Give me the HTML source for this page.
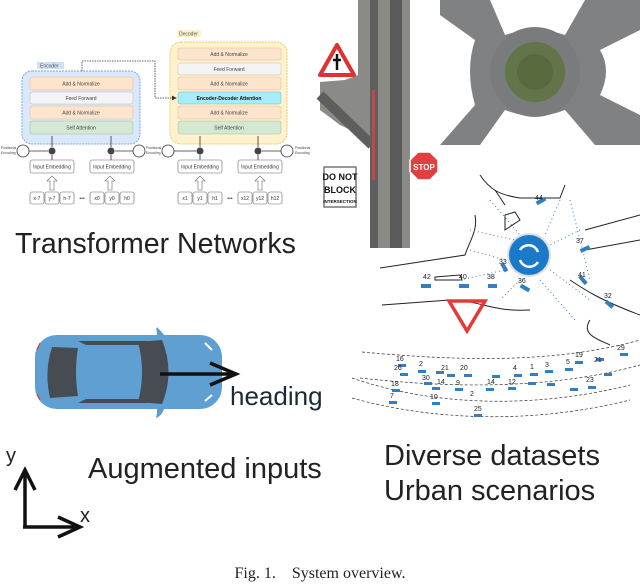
<!DOCTYPE html>
<html><head><meta charset="utf-8"><style>
body{margin:0;background:#fff;width:640px;height:584px;overflow:hidden}
svg{display:block}
.t{font-family:"Liberation Sans",sans-serif}
</style></head><body>
<svg width="640" height="584" viewBox="0 0 640 584" xmlns="http://www.w3.org/2000/svg">
<defs>
<marker id="ah" markerWidth="6" markerHeight="6" refX="5" refY="3" orient="auto"><path d="M0,0 L6,3 L0,6z" fill="#333"/></marker>
</defs>
<!-- Encoder -->
<rect x="37" y="62" width="27" height="7" fill="#cfe0f5"/>
<text x="40" y="67.5" font-size="5" class="t" fill="#555">Encoder</text>
<rect x="22" y="71" width="118" height="73" rx="10" fill="#dae8fc" stroke="#7ea6e0" stroke-dasharray="2,1"/>
<g class="t" font-size="5" text-anchor="middle" fill="#444">
<rect x="30" y="77" width="103" height="13" rx="2" fill="#fde4cc" stroke="#e8b98a" stroke-width=".5"/><text x="81" y="85.5">Add &amp; Normalize</text>
<rect x="30" y="92" width="103" height="12" rx="2" fill="#f4f4f4" stroke="#bbb" stroke-width=".5"/><text x="81" y="100">Feed Forward</text>
<rect x="30" y="106" width="103" height="13" rx="2" fill="#fde4cc" stroke="#e8b98a" stroke-width=".5"/><text x="81" y="114.5">Add &amp; Normalize</text>
<rect x="30" y="121" width="103" height="13" rx="2" fill="#d5e8d4" stroke="#9ac29a" stroke-width=".5"/><text x="81" y="129.5">Self Attention</text>
</g>
<!-- Decoder -->
<rect x="177" y="30" width="24" height="7" fill="#fdf0c8"/>
<text x="179" y="35.5" font-size="5" class="t" fill="#555">Decoder</text>
<rect x="170" y="42" width="117" height="102" rx="11" fill="#fff2cc" stroke="#f0c870" stroke-dasharray="2,1"/>
<g class="t" font-size="5" text-anchor="middle" fill="#444">
<rect x="178" y="48" width="103" height="12" rx="2" fill="#fde4cc" stroke="#e8b98a" stroke-width=".5"/><text x="229" y="56">Add &amp; Normalize</text>
<rect x="178" y="63" width="103" height="12" rx="2" fill="#f4f4f4" stroke="#bbb" stroke-width=".5"/><text x="229" y="71">Feed Forward</text>
<rect x="178" y="77" width="103" height="13" rx="2" fill="#fde4cc" stroke="#e8b98a" stroke-width=".5"/><text x="229" y="85.5">Add &amp; Normalize</text>
<rect x="178" y="92" width="103" height="12" rx="2" fill="#a6ecfa" stroke="#5bc0de" stroke-width=".5"/><text x="229" y="100" font-weight="bold" fill="#111">Encoder-Decoder Attention</text>
<rect x="178" y="106" width="103" height="13" rx="2" fill="#fde4cc" stroke="#e8b98a" stroke-width=".5"/><text x="229" y="114.5">Add &amp; Normalize</text>
<rect x="178" y="121" width="103" height="13" rx="2" fill="#d5e8d4" stroke="#9ac29a" stroke-width=".5"/><text x="229" y="129.5">Self Attention</text>
</g>
<path d="M82,71 V61 H155 V98 H176" fill="none" stroke="#333" stroke-width=".8" stroke-dasharray="1.5,1" marker-end="url(#ah)"/>
<g fill="#fff" stroke="#333" stroke-width=".8">
<circle cx="23" cy="151" r="6"/><circle cx="139" cy="151" r="6"/><circle cx="168" cy="151" r="6"/><circle cx="287" cy="151" r="6"/>
</g>
<g fill="#444"><circle cx="52" cy="151" r="3.5"/><circle cx="111" cy="151" r="3.5"/><circle cx="200" cy="151" r="3.5"/><circle cx="258" cy="151" r="3.5"/></g>
<g stroke="#333" stroke-width=".8" fill="none">
<path d="M29,151H48M133,151H115M174,151H196M281,151H262"/>
<path d="M52,147V136M111,147V136M200,147V136M258,147V136"/>
<path d="M52,160V155M111,160V155M200,160V155M258,160V155"/>
</g>
<g class="t" font-size="3.5" fill="#444"><text x="1" y="149">Positional</text><text x="1" y="154">Encoding</text>
<text x="146" y="149">Positional</text><text x="146" y="154">Encoding</text>
<text x="295" y="149">Positional</text><text x="295" y="154">Encoding</text></g>
<g class="t" font-size="5" text-anchor="middle" fill="#333" stroke-width=".6">
<rect x="30" y="160" width="44" height="13" rx="2" fill="#fff" stroke="#666"/><text x="52" y="168.5">Input Embedding</text>
<rect x="90" y="160" width="44" height="13" rx="2" fill="#fff" stroke="#666"/><text x="112" y="168.5">Input Embedding</text>
<rect x="178" y="160" width="44" height="13" rx="2" fill="#fff" stroke="#666"/><text x="200" y="168.5">Input Embedding</text>
<rect x="238" y="160" width="44" height="13" rx="2" fill="#fff" stroke="#666"/><text x="260" y="168.5">Input Embedding</text>
</g>
<g fill="#fff" stroke="#666" stroke-width=".6">
<path d="M50,190V181H47L52,176L57,181H54V190Z"/><path d="M108,190V181H105L110,176L115,181H112V190Z"/>
<path d="M198,190V181H195L200,176L205,181H202V190Z"/><path d="M258,190V181H255L260,176L265,181H262V190Z"/>
</g>
<g class="t" font-size="5" text-anchor="middle" fill="#333">
<g fill="#fff" stroke="#666" stroke-width=".6">
<rect x="30" y="192" width="14" height="12" rx="2"/><rect x="45" y="192" width="14" height="12" rx="2"/><rect x="60" y="192" width="14" height="12" rx="2"/>
<rect x="90" y="192" width="14" height="12" rx="2"/><rect x="105" y="192" width="14" height="12" rx="2"/><rect x="120" y="192" width="14" height="12" rx="2"/>
<rect x="178" y="192" width="14" height="12" rx="2"/><rect x="193" y="192" width="14" height="12" rx="2"/><rect x="208" y="192" width="14" height="12" rx="2"/>
<rect x="238" y="192" width="14" height="12" rx="2"/><rect x="253" y="192" width="14" height="12" rx="2"/><rect x="268" y="192" width="14" height="12" rx="2"/>
</g>
<text x="37" y="200">x-7</text><text x="52" y="200">y-7</text><text x="67" y="200">h-7</text>
<text x="97" y="200">x0</text><text x="112" y="200">y0</text><text x="127" y="200">h0</text>
<text x="185" y="200">x1</text><text x="200" y="200">y1</text><text x="215" y="200">h1</text>
<text x="245" y="200">x12</text><text x="260" y="200">y12</text><text x="275" y="200">h12</text>
<text x="82" y="200">•••</text><text x="230" y="200">•••</text>
</g>
<text x="15" y="253" font-size="28.5" class="t" fill="#222">Transformer Networks</text>

<!-- aerial left -->
<path d="M358,0H410V248H372V140L340,125L320,110V82L345,80L358,75Z" fill="#8a8a86"/>
<rect x="370" y="0" width="8" height="248" fill="#5e5e5e"/><rect x="390" y="0" width="12" height="248" fill="#5a5a5a"/>
<path d="M320,95L372,145" stroke="#5e5e5e" stroke-width="10"/>
<rect x="372" y="90" width="3" height="90" fill="#c04848"/>
<path d="M337,45L354,75H320Z" fill="#fff" stroke="#e03030" stroke-width="4" stroke-linejoin="round"/>
<path d="M337,54V70M333,60H341" stroke="#111" stroke-width="2.5"/>
<polygon points="418,152 430,152 438,160 438,172 430,180 418,180 410,172 410,160" fill="#e04040" stroke="#fff" stroke-width="1.5"/>
<text x="424" y="170" font-size="8" text-anchor="middle" font-weight="bold" class="t" fill="#fff">STOP</text>
<rect x="324" y="167" width="32" height="40" fill="#fff" stroke="#777" stroke-width="1.5"/>
<g class="t" font-weight="bold" text-anchor="middle" fill="#111"><text x="340" y="180" font-size="9">DO NOT</text><text x="340" y="193" font-size="9">BLOCK</text><text x="340" y="203" font-size="4.5">INTERSECTION</text></g>
<!-- roundabout aerial -->
<g fill="#808183">
<path d="M440,0H490L505,35Q535,25 565,35L585,0H640V30L600,50Q612,70 600,95L640,115V145H595L565,110Q535,122 505,110L480,145H440L475,105Q465,70 475,40L440,15Z"/>
</g>
<circle cx="535" cy="72" r="45" fill="#7a7b7d"/>
<circle cx="535" cy="72" r="30" fill="#62744a"/>
<circle cx="535" cy="72" r="18" fill="#566a3e"/>
<!-- map -->
<g fill="none" stroke="#222" stroke-width="1">
<path d="M480,175C490,190 500,195 520,198H560L565,185"/>
<path d="M495,190L505,205M505,215L515,212L520,220L505,230Z"/>
<path d="M380,268L465,255C470,240 478,230 475,215"/>
<path d="M382,305L450,300C480,300 490,312 530,310"/>
<path d="M585,230L640,215M585,250L640,240"/>
<path d="M570,280C585,290 600,300 640,315M590,320C580,335 600,340 610,345"/>
<path d="M435,277L460,275L462,280L435,280Z"/>
</g>
<g fill="none" stroke="#333" stroke-width=".7" stroke-dasharray="3,2">
<path d="M362,352C450,360 550,365 640,340M360,378C450,388 550,390 640,365M352,398C430,420 530,425 630,400M352,378C430,405 530,410 630,385"/>
</g>
<circle cx="529" cy="255" r="22" fill="#ddd"/><circle cx="529" cy="255" r="20" fill="#1b79c9"/>
<path d="M520,250A10,10 0 0 1 538,252M538,262A10,10 0 0 1 520,260" stroke="#fff" stroke-width="2.5" fill="none"/>
<g stroke="#3d7fc4" stroke-width="1" stroke-dasharray="1,3" fill="none">
<path d="M470,230L515,240M470,250L505,260M490,200L520,235M560,200L545,235M580,230L550,245M550,270L590,300M540,280L575,320M520,280L500,300M460,280L505,270M570,200L590,280"/>
</g>
<path d="M449,301L485,301L467,331Z" fill="none" stroke="#e53935" stroke-width="3.5"/>
<g fill="#2f7fc2">
<rect x="536" y="199" width="10" height="4" transform="rotate(-30 541 201)"/>
<rect x="580" y="247" width="10" height="4" transform="rotate(-25 585 249)"/>
<rect x="421" y="284" width="10" height="4"/><rect x="459" y="284" width="10" height="4"/><rect x="488" y="284" width="9" height="4"/>
<rect x="500" y="265" width="9" height="4" transform="rotate(60 504 267)"/><rect x="520" y="286" width="10" height="4" transform="rotate(30 525 288)"/>
<rect x="578" y="278" width="10" height="4" transform="rotate(50 583 280)"/><rect x="605" y="302" width="9" height="4" transform="rotate(40 609 304)"/>
</g>
<g fill="#2f7fc2">
<rect x="398" y="364" width="8" height="3"/><rect x="400" y="373" width="8" height="3"/><rect x="418" y="370" width="8" height="3"/><rect x="436" y="371" width="8" height="3"/><rect x="447" y="374" width="8" height="3"/><rect x="464" y="374" width="8" height="3"/><rect x="492" y="375" width="8" height="3"/><rect x="514" y="374" width="8" height="3"/><rect x="530" y="373" width="8" height="3"/><rect x="545" y="370" width="8" height="3"/><rect x="565" y="368" width="8" height="3"/><rect x="575" y="361" width="8" height="3"/><rect x="596" y="358" width="8" height="3"/><rect x="620" y="353" width="8" height="3"/><rect x="604" y="373" width="8" height="3"/>
<rect x="392" y="389" width="8" height="3"/><rect x="424" y="382" width="8" height="3"/><rect x="432" y="387" width="8" height="3"/><rect x="455" y="388" width="8" height="3"/><rect x="486" y="388" width="8" height="3"/><rect x="508" y="387" width="8" height="3"/><rect x="528" y="382" width="8" height="3"/><rect x="547" y="383" width="8" height="3"/><rect x="570" y="388" width="8" height="3"/><rect x="588" y="386" width="8" height="3"/><rect x="389" y="401" width="8" height="3"/><rect x="432" y="402" width="8" height="3"/><rect x="474" y="414" width="8" height="3"/>
</g>
<g class="t" font-size="7" fill="#222"><text x="535" y="200">44</text><text x="576" y="243">37</text><text x="423" y="279">42</text><text x="459" y="279">40</text><text x="487" y="279">38</text><text x="499" y="264">33</text><text x="518" y="283">36</text><text x="578" y="277">41</text><text x="604" y="298">32</text>
<text x="396" y="361">16</text><text x="394" y="370">26</text><text x="419" y="366">2</text><text x="441" y="370">21</text><text x="460" y="370">20</text><text x="513" y="370">4</text><text x="530" y="369">1</text><text x="545" y="367">3</text><text x="566" y="364">5</text><text x="575" y="357">19</text><text x="594" y="362">21</text><text x="617" y="350">29</text><text x="391" y="386">18</text><text x="422" y="380">30</text><text x="437" y="384">14</text><text x="456" y="385">9</text><text x="487" y="384">14</text><text x="508" y="384">12</text><text x="390" y="398">7</text><text x="430" y="399">10</text><text x="470" y="396">2</text><text x="474" y="411">25</text><text x="586" y="382">23</text></g>
<text x="384" y="465" font-size="29" class="t" fill="#222">Diverse datasets</text>
<text x="384" y="500" font-size="29" class="t" fill="#222">Urban scenarios</text>

<!-- car -->
<path d="M157,327L165,336H157ZM157,418L165,408H157Z" fill="#5b9bcf"/>
<path d="M156,328Q162,330 164,337L158,337Z M156,418Q162,416 164,408L158,408Z" fill="#5b9bcf"/>
<rect x="35" y="335" width="187" height="74" rx="22" fill="#5f9fd2"/>
<path d="M52,347L78,348Q74,372 78,396L50,398Q44,372 52,347Z" fill="#474c52"/>
<path d="M138,342L162,340Q175,372 162,404L138,402Q146,372 138,342Z" fill="#474c52"/>
<path d="M78,341H148L140,345H86Z M78,403H148L140,399H86Z" fill="#474c52"/>
<path d="M205,343L212,350M205,401L212,395" stroke="#fff" stroke-width="2"/>
<path d="M40,343L37,350M40,400L37,394" stroke="#e33" stroke-width="1"/>
<path d="M160,374H236M210,363L236,374L210,385" stroke="#111" stroke-width="3.5" fill="none"/>
<text x="230" y="405" font-size="26" class="t" fill="#1a2a38">heading</text>
<text x="88" y="478" font-size="29" class="t" fill="#222">Augmented inputs</text>
<text x="6" y="462" font-size="20" class="t" fill="#222">y</text>
<text x="80" y="522" font-size="20" class="t" fill="#222">x</text>
<path d="M25,527V472M15,490L25,470L35,490M23,527H80M58,517L80,527L58,537" stroke="#111" stroke-width="3.5" fill="none"/>
<text x="320" y="578" font-size="16" text-anchor="middle" font-family="Liberation Serif,serif" fill="#222" xml:space="preserve">Fig. 1.    System overview.</text>
</svg>
</body></html>
